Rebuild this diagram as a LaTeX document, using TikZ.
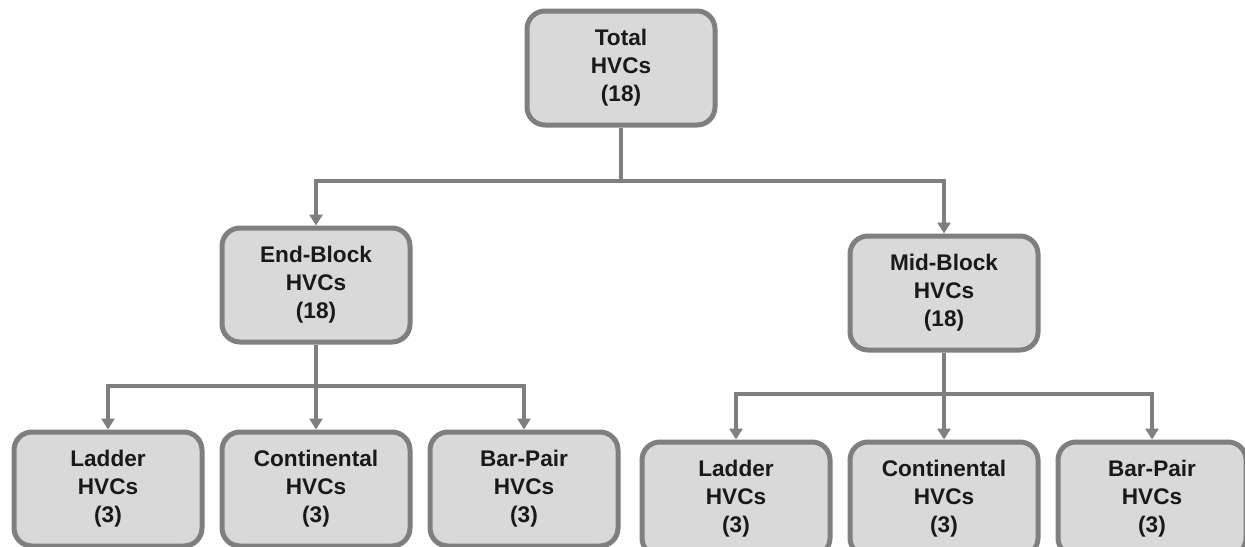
\documentclass[tikz,border=0pt]{standalone}
\usepackage{fontspec}
\setmainfont{Liberation Sans}
\usetikzlibrary{arrows.meta,positioning}

\definecolor{boxfill}{HTML}{D9D9D9}
\definecolor{boxline}{HTML}{7F7F7F}

\begin{document}
\begin{tikzpicture}[x=0.5pt, y=-0.5pt, >={Triangle[width=6.5pt,length=5.5pt]}]

    \tikzset{hvc/.style = {rectangle, rounded corners=9pt, minimum width=94pt, minimum height=57pt,
                           align=center, draw=boxline, line width=2.5pt, fill=boxfill,
                           font=\fontsize{11.3}{14}\selectfont\bfseries, text=black!90},
             link/.style = {draw=boxline, line width=2pt}}

    \useasboundingbox (0,0) rectangle (1245,546);
    \clip (0,0) rectangle (1245,546);

    \node (total) [hvc] at (621,68)   {Total\\HVCs\\(18)};

    \node (endblk) [hvc] at (316,285) {End-Block\\HVCs\\(18)};
    \node (midblk) [hvc] at (944,293) {Mid-Block\\HVCs\\(18)};

    % end-block group
    \node (econt)   [hvc] at (316,489)              {Continental\\HVCs\\(3)};
    \node (eladder) [hvc, left=7.5pt of econt]      {Ladder\\HVCs\\(3)};
    \node (ebar)    [hvc, right=7.5pt of econt]     {Bar-Pair\\HVCs\\(3)};

    % mid-block group
    \node (mcont)   [hvc] at (944,499)              {Continental\\HVCs\\(3)};
    \node (mladder) [hvc, left=7.5pt of mcont]      {Ladder\\HVCs\\(3)};
    \node (mbar)    [hvc, right=7.5pt of mcont]     {Bar-Pair\\HVCs\\(3)};

    \coordinate (jtop) at (621,181);
    \coordinate (jend) at (316,386);
    \coordinate (jmid) at (944,394);

    \draw[link]     (total)  -- (jtop);
    \draw[link, ->] (jtop)   -| (endblk);
    \draw[link, ->] (jtop)   -| (midblk);

    \draw[link]     (endblk) -- (jend);
    \draw[link, ->] (jend)   -| (eladder);
    \draw[link, ->] (jend)   -- (econt);
    \draw[link, ->] (jend)   -| (ebar);

    \draw[link]     (midblk) -- (jmid);
    \draw[link, ->] (jmid)   -| (mladder);
    \draw[link, ->] (jmid)   -- (mcont);
    \draw[link, ->] (jmid)   -| (mbar);
\end{tikzpicture}
\end{document}
